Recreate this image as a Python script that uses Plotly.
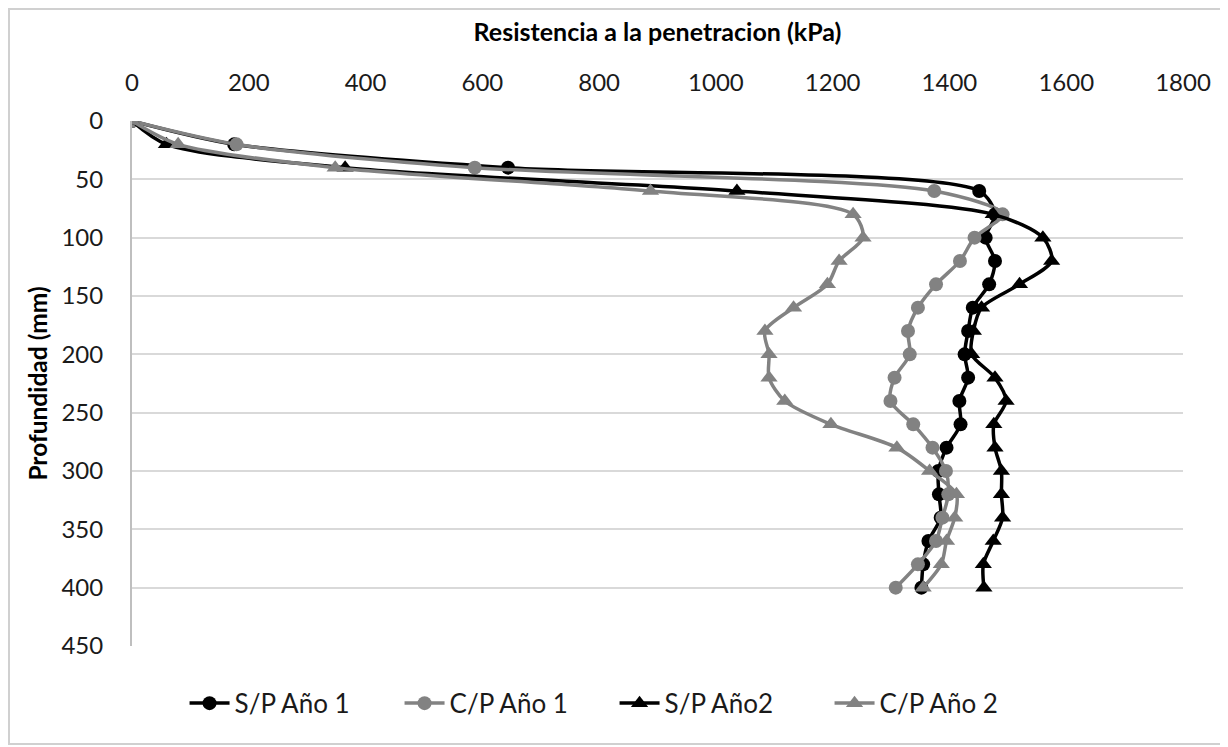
import plotly.graph_objects as go

depth = [0, 20, 40, 60, 80, 100, 120, 140, 160, 180, 200, 220, 240, 260, 280, 300, 320, 340, 360, 380, 400]

sp_ano1 = [0, 175, 644, 1451, 1478, 1462, 1478, 1468, 1440, 1432, 1426, 1432, 1417, 1419, 1395, 1381, 1382, 1385, 1364, 1355, 1352]
cp_ano1 = [0, 179, 587, 1374, 1491, 1443, 1418, 1377, 1346, 1329, 1332, 1306, 1299, 1338, 1371, 1394, 1398, 1388, 1377, 1346, 1308]
sp_ano2 = [0, 59, 365, 1036, 1475, 1560, 1575, 1520, 1455, 1441, 1438, 1478, 1497, 1476, 1478, 1489, 1489, 1491, 1475, 1458, 1459]
cp_ano2 = [0, 79, 348, 888, 1235, 1252, 1211, 1191, 1133, 1084, 1091, 1091, 1118, 1197, 1310, 1366, 1412, 1409, 1395, 1386, 1355]

series_names = ["S/P Año 1", "C/P Año 1", "S/P Año2", "C/P Año 2"]
x_ticks = [0, 200, 400, 600, 800, 1000, 1200, 1400, 1600, 1800]
y_ticks = [0, 50, 100, 150, 200, 250, 300, 350, 400, 450]

BLACK = "#000000"
GREY = "#828282"
styles = [
    (sp_ano1, BLACK, "circle", 14),
    (cp_ano1, GREY, "circle", 14),
    (sp_ano2, BLACK, "triangle-up", 15),
    (cp_ano2, GREY, "triangle-up", 15),
]

fig = go.Figure()
for name, (vals, col, sym, ms) in zip(series_names, styles):
    fig.add_trace(go.Scatter(
        x=vals, y=depth, name=name, mode="lines+markers",
        line=dict(color=col, width=3.5, shape="spline", smoothing=0.8),
        marker=dict(color=col, symbol=sym, size=ms, line=dict(width=0)),
    ))

# page body has an 8px margin, so figure coords = page coords - 8
L, T, W_PLOT, H_PLOT = 124, 113, 1051, 525
FONT = "Lato"
TXT = "#1a1a1a"
fig.update_layout(
    width=1228, height=747,
    margin=dict(l=L, r=1228 - L - W_PLOT, t=T, b=747 - T - H_PLOT, autoexpand=False),
    paper_bgcolor="white", plot_bgcolor="white",
    font=dict(family=FONT, size=24, color=TXT),
    showlegend=True,
    legend=dict(
        orientation="h", x=0.05, xanchor="left", y=-0.109, yanchor="middle",
        entrywidth=160, entrywidthmode="pixels",
        font=dict(family=FONT, size=26, color=TXT),
        itemwidth=40, tracegroupgap=0,
    ),
    xaxis=dict(
        side="top", range=[0, 1800], tickvals=x_ticks, ticktext=[str(t) for t in x_ticks],
        showgrid=False, zeroline=False, showline=False, ticks="", automargin=False,
        ticklabelstandoff=24,
        tickfont=dict(family=FONT, size=24, color=TXT),
        title=dict(text="<b>Resistencia a la penetracion (kPa)</b>", standoff=18,
                   font=dict(family=FONT, size=25, color="#000000")),
    ),
    yaxis=dict(
        range=[450, 0], tickvals=y_ticks, ticktext=[str(t) for t in y_ticks],
        showgrid=True, gridcolor="#d9d9d9", gridwidth=2,
        zeroline=False, showline=True, linecolor="#bfbfbf", linewidth=2,
        ticks="", ticklabelstandoff=22, automargin=False,
        tickfont=dict(family=FONT, size=24, color=TXT),
        title=dict(text="<b>Profundidad (mm)</b>", standoff=7,
                   font=dict(family=FONT, size=24.5, color="#000000")),
    ),
)

# outer chart border (page px 8..1224 x 8..745)
fig.add_shape(type="rect", xref="paper", yref="paper",
              x0=(1 - L) / W_PLOT, x1=(1215 - L) / W_PLOT,
              y0=(T + H_PLOT - 736) / H_PLOT, y1=(T + H_PLOT - 1) / H_PLOT,
              line=dict(color="#d0d0d0", width=2), fillcolor="rgba(0,0,0,0)", layer="below")

fig.write_html("out.html")
